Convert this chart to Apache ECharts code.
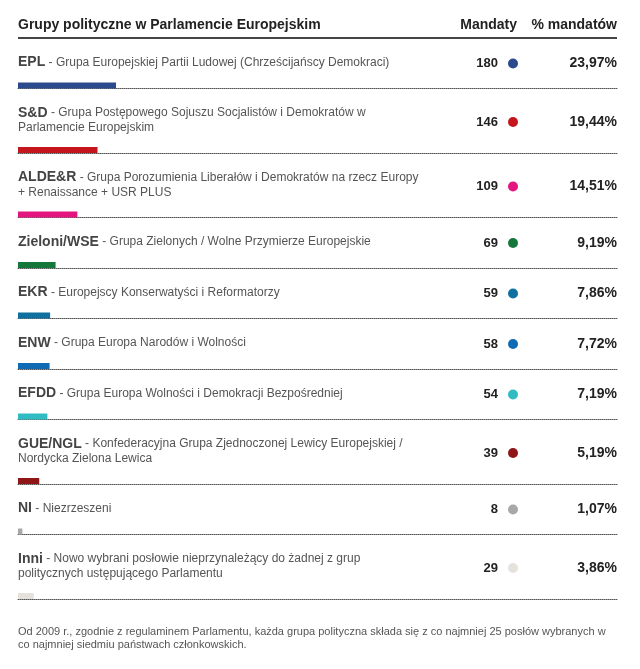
<!DOCTYPE html>
<html>
<head>
<meta charset="utf-8">
<script src="https://cdn.jsdelivr.net/npm/echarts@6/dist/echarts.min.js"></script>
<style>
  html, body { margin: 0; padding: 0; background: #fff; }
  #chart { width: 640px; height: 669px; }
</style>
</head>
<body>
<div id="chart"></div>
<script>
// groups in the European Parliament
const abbrs = ["EPL", "S&D", "ALDE&R", "Zieloni/WSE", "EKR", "ENW", "EFDD", "GUE/NGL", "NI", "Inni"];
const descriptions = [
  "Grupa Europejskiej Partii Ludowej (Chrześcijańscy Demokraci)",
  "Grupa Postępowego Sojuszu Socjalistów i Demokratów w\nParlamencie Europejskim",
  "Grupa Porozumienia Liberałów i Demokratów na rzecz Europy\n+ Renaissance + USR PLUS",
  "Grupa Zielonych / Wolne Przymierze Europejskie",
  "Europejscy Konserwatyści i Reformatorzy",
  "Grupa Europa Narodów i Wolności",
  "Grupa Europa Wolności i Demokracji Bezpośredniej",
  "Konfederacyjna Grupa Zjednoczonej Lewicy Europejskiej /\nNordycka Zielona Lewica",
  "Niezrzeszeni",
  "Nowo wybrani posłowie nieprzynależący do żadnej z grup\npolitycznych ustępującego Parlamentu"
];
const seats = [180, 146, 109, 69, 59, 58, 54, 39, 8, 29];
const shares = [23.97, 19.44, 14.51, 9.19, 7.86, 7.72, 7.19, 5.19, 1.07, 3.86];
const colors = ["#2b4a8e", "#c4161c", "#e4157f", "#15773a", "#10709f", "#0f6bb4", "#2fbcc2", "#8e1616", "#a8a8a8", "#e5e2de"];

const title = "Grupy polityczne w Parlamencie Europejskim";
const headSeats = "Mandaty";
const headShare = "% mandatów";
const footnote = "Od 2009 r., zgodnie z regulaminem Parlamentu, każda grupa polityczna składa się z co najmniej 25 posłów wybranych w\nco najmniej siedmiu państwach członkowskich.";

const chart = echarts.init(document.getElementById("chart"));

const LEFT = 18, RIGHT = 617, BAR_H = 6;
const FONT = "'Liberation Sans', Arial, sans-serif";

// row layout: one-line rows are shorter than two-line ones
let y = 38;
const rows = descriptions.map((d) => {
  const lines = d.split("\n").length;
  const h = lines > 1 ? 64.5 : 50.5;
  const r = { top: y, bottom: y + h, lines };
  y += h;
  return r;
});

const grids = [], xAxes = [], yAxes = [], series = [];
const graphic = [
  { type: "text", x: LEFT, y: 25.5, style: { text: title, font: "bold 14px " + FONT, fill: "#222", textVerticalAlign: "middle" } },
  { type: "text", x: 517, y: 25.5, style: { text: headSeats, font: "bold 14px " + FONT, fill: "#222", textAlign: "right", textVerticalAlign: "middle" } },
  { type: "text", x: RIGHT, y: 25.5, style: { text: headShare, font: "bold 14px " + FONT, fill: "#222", textAlign: "right", textVerticalAlign: "middle" } },
  { type: "line", shape: { x1: LEFT, y1: 38, x2: RIGHT, y2: 38 }, style: { stroke: "#444", lineWidth: 2 } },
  { type: "text", x: LEFT, y: 638.5, style: { text: footnote, font: "11px " + FONT, fill: "#555", lineHeight: 13, textVerticalAlign: "middle" } }
];

rows.forEach((r, i) => {
  grids.push({ left: LEFT, width: RIGHT - LEFT, top: r.bottom - BAR_H, height: BAR_H });
  xAxes.push({
    gridIndex: i, type: "value", min: 0, max: 1100,
    axisLine: { show: true, lineStyle: { color: "#555", type: [1, 1], width: 1 } },
    axisTick: { show: false }, axisLabel: { show: false }, splitLine: { show: false }
  });
  yAxes.push({ gridIndex: i, type: "category", data: [abbrs[i]], show: false });
  series.push({
    type: "bar", xAxisIndex: i, yAxisIndex: i, data: [seats[i]],
    barWidth: BAR_H, itemStyle: { color: colors[i] }, silent: true
  });

  graphic.push({
    type: "text", x: LEFT, y: r.top + 17,
    style: {
      text: "{a|" + abbrs[i] + "}{b| - " + descriptions[i] + "}",
      font: "12px " + FONT,
      rich: {
        a: { font: "bold 14px " + FONT, fill: "#444", lineHeight: 15 },
        b: { font: "12px " + FONT, fill: "#555", lineHeight: 15 }
      }
    }
  });
  const ny = r.top + 25.5 + (r.lines - 1) * 8;
  graphic.push({ type: "text", x: 498, y: ny, style: { text: String(seats[i]), font: "bold 13px " + FONT, fill: "#222", textAlign: "right", textVerticalAlign: "middle" } });
  graphic.push({ type: "circle", shape: { cx: 513, cy: ny, r: 5 }, style: { fill: colors[i] } });
  graphic.push({ type: "text", x: RIGHT, y: ny, style: { text: shares[i].toFixed(2).replace(".", ",") + "%", font: "bold 14px " + FONT, fill: "#222", textAlign: "right", textVerticalAlign: "middle" } });
});

chart.setOption({
  backgroundColor: "#fff",
  animation: false,
  grid: grids,
  xAxis: xAxes,
  yAxis: yAxes,
  series: series,
  graphic: graphic
});
</script>
</body>
</html>
